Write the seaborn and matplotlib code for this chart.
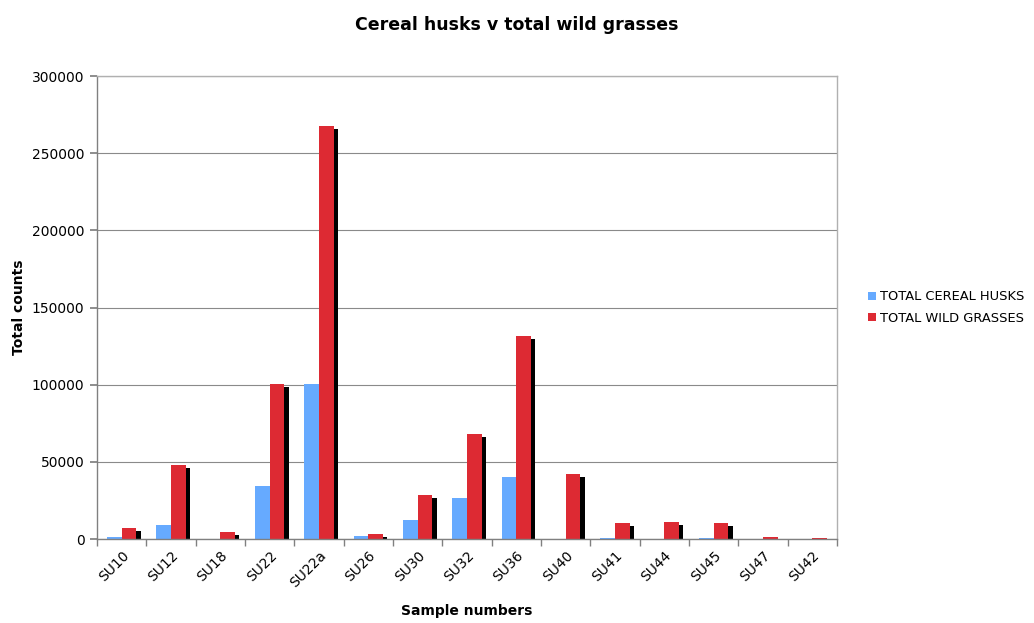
import numpy as np
import pandas as pd
import matplotlib
matplotlib.use("Agg")
import matplotlib.pyplot as plt
import matplotlib.patheffects as pe
from matplotlib.ticker import MultipleLocator, FixedLocator
import seaborn as sns

samples = ["SU10", "SU12", "SU18", "SU22", "SU22a", "SU26", "SU30", "SU32",
           "SU36", "SU40", "SU41", "SU44", "SU45", "SU47", "SU42"]
cereal_husks = [1500, 9000, 300, 34500, 100500, 2000, 12300, 26500,
                40000, 0, 600, 100, 500, 100, 100]
wild_grasses = [7000, 48000, 4500, 100500, 267500, 3300, 28500, 68000,
                131500, 42000, 10300, 11000, 10300, 1300, 800]
series_names = ["TOTAL CEREAL HUSKS", "TOTAL WILD GRASSES"]
colors = ["#66AAFF", "#DD2A33"]

df = pd.DataFrame({
    "Sample": samples * 2,
    "Series": [series_names[0]] * len(samples) + [series_names[1]] * len(samples),
    "Count": cereal_husks + wild_grasses,
})

sns.set_theme(style="white")
plt.rcParams["font.family"] = ["DejaVu Sans"]
plt.rcParams["text.color"] = "black"
plt.rcParams["axes.labelcolor"] = "black"
plt.rcParams["xtick.color"] = "black"
plt.rcParams["ytick.color"] = "black"

fig = plt.figure(figsize=(10.34, 6.23), dpi=100)
ax = fig.add_axes([0.0938, 0.1348, 0.7157, 0.7432])

sns.barplot(data=df, x="Sample", y="Count", hue="Series", order=samples,
            hue_order=series_names, palette=colors, width=0.6,
            saturation=1, errorbar=None, ax=ax, legend=True,
            linewidth=0, edgecolor="none")

# drop shadow on the wild-grass bars
for patch in ax.containers[1]:
    patch.set_path_effects([
        pe.SimplePatchShadow(offset=(3, -2), shadow_rgbFace="black", alpha=1.0),
        pe.Normal(),
    ])

ax.set_ylim(0, 300000)
ax.set_xlim(-0.5, len(samples) - 0.5)
ax.yaxis.set_major_locator(MultipleLocator(50000))
ax.grid(axis="y", color="#8a8a8a", linewidth=0.8)
ax.set_axisbelow(True)

for s in ax.spines.values():
    s.set_color("#b0b0b0")
    s.set_linewidth(1)
ax.spines["left"].set_color("#808080")
ax.spines["bottom"].set_color("#808080")

# category boundary ticks on x
ax.xaxis.set_minor_locator(FixedLocator(np.arange(-0.5, len(samples), 1.0)))
ax.tick_params(axis="x", which="major", length=0, labelsize=10, pad=7)
ax.tick_params(axis="x", which="minor", length=5, color="#808080", direction="out", bottom=True)
ax.tick_params(axis="y", which="major", length=5, color="#808080", direction="out",
               left=True, labelsize=10, pad=4)
for lab in ax.get_xticklabels():
    lab.set_rotation(45)
    lab.set_ha("right")
    lab.set_rotation_mode("anchor")

ax.set_xlabel("Sample numbers", fontsize=10, fontweight="bold", labelpad=10)
ax.set_ylabel("Total counts", fontsize=10, fontweight="bold", labelpad=4)
fig.suptitle("Cereal husks v total wild grasses", x=0.5, y=0.975,
             fontsize=12.5, fontweight="bold")

handles, labels = ax.get_legend_handles_labels()
ax.legend(handles, labels, loc="center left", bbox_to_anchor=(1.035, 0.5),
          frameon=False, fontsize=9.4, handlelength=0.6, handleheight=0.6,
          handletextpad=0.3, labelspacing=0.65, borderaxespad=0)

fig.savefig("out.png", dpi=100, facecolor="white")
